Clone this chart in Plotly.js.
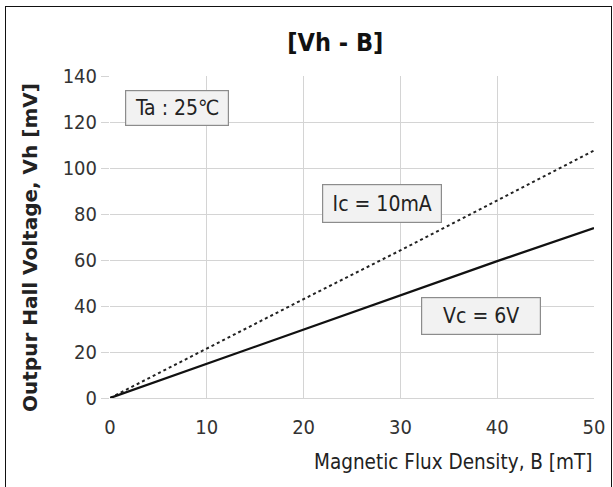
<!DOCTYPE html>
<html><head><meta charset="utf-8">
<script src="https://cdn.plot.ly/plotly-3.0.1.min.js"></script>
<style>
html,body{margin:0;padding:0;background:#fff;overflow:hidden}
#chart{width:613px;height:487px}
#frame{position:absolute;left:5px;top:6px;width:607px;height:490px;border:1.5px solid #111;pointer-events:none;box-sizing:border-box}
</style></head>
<body>
<div id="chart"></div>
<div id="frame"></div>
<script>
const B = [0, 10, 20, 30, 40, 50];
const vhIc = [0, 21.6, 43.0, 64.2, 86.0, 107.6];
const vhVc = [0, 14.8, 29.7, 44.6, 59.5, 73.9];
const xTicks = [0, 10, 20, 30, 40, 50];
const yTicks = [0, 20, 40, 60, 80, 100, 120, 140];
const labelIc = "Ic = 10mA";
const labelVc = "Vc = 6V";
const labelTa = "Ta : 25℃";

const F = "DejaVu Sans Condensed, Open Sans, sans-serif";
const traces = [
  {x: B, y: vhIc, mode: 'lines', line: {color: '#222', width: 2, dash: 'dot'}, name: labelIc},
  {x: B, y: vhVc, mode: 'lines', line: {color: '#111', width: 2.3}, name: labelVc}
];
const box = {bgcolor: '#f2f2f2', bordercolor: '#8c8c8c', borderwidth: 1.2, font: {family: F, size: 21, color: '#222'}, showarrow: false, align: 'center'};
const layout = {
  width: 613, height: 487,
  margin: {l: 110, r: 19, t: 76, b: 89},
  paper_bgcolor: '#fff', plot_bgcolor: '#fff',
  showlegend: false,
  title: {text: '<b>[Vh - B]</b>', font: {family: F, size: 25, color: '#111'}, x: 0.547, xanchor: 'center', y: 0.914, yanchor: 'middle'},
  xaxis: {range: [0, 50], tickvals: xTicks, showgrid: true, gridcolor: '#d4d4d4', gridwidth: 1,
    zeroline: false, showline: true, linecolor: '#d4d4d4', ticks: '', tickfont: {family: F, size: 20, color: '#333'}, ticklabelstandoff: 11},
  yaxis: {range: [0, 140], tickvals: yTicks, showgrid: true, gridcolor: '#d4d4d4', gridwidth: 1,
    zeroline: false, showline: false, ticks: 'outside', ticklen: 8, tickcolor: '#d4d4d4',
    tickfont: {family: F, size: 20, color: '#333'}, ticksuffix: '<span style="color:rgba(0,0,0,0)">0</span>'},
  annotations: [
    Object.assign({}, box, {text: labelTa, xref: 'x', yref: 'y', x: 1.5, y: 126, xanchor: 'left', yanchor: 'middle', borderpad: 4, width: 94, height: 26}),
    Object.assign({}, box, {text: labelIc, xref: 'x', yref: 'y', x: 21.9, y: 84.6, xanchor: 'left', yanchor: 'middle', borderpad: 5, width: 108, height: 27}),
    Object.assign({}, box, {text: labelVc, xref: 'x', yref: 'y', x: 32.1, y: 35.6, xanchor: 'left', yanchor: 'middle', borderpad: 5, width: 108, height: 26}),
    {text: 'Magnetic Flux Density, B [mT]', xref: 'paper', yref: 'paper', x: 1.0, y: -0.2, xanchor: 'right', yanchor: 'middle', showarrow: false,
     font: {family: F, size: 20.5, color: '#222'}},
    {text: '<b>Outpur Hall Voltage, Vh [mV]</b>', xref: 'paper', yref: 'paper', x: -0.1653, y: 0.469, xanchor: 'center', yanchor: 'middle', textangle: -90, showarrow: false,
     font: {family: 'DejaVu Sans, sans-serif', size: 20, color: '#222'}}
  ]
};
Plotly.newPlot('chart', traces, layout, {displayModeBar: false, staticPlot: true});
</script>
</body></html>
